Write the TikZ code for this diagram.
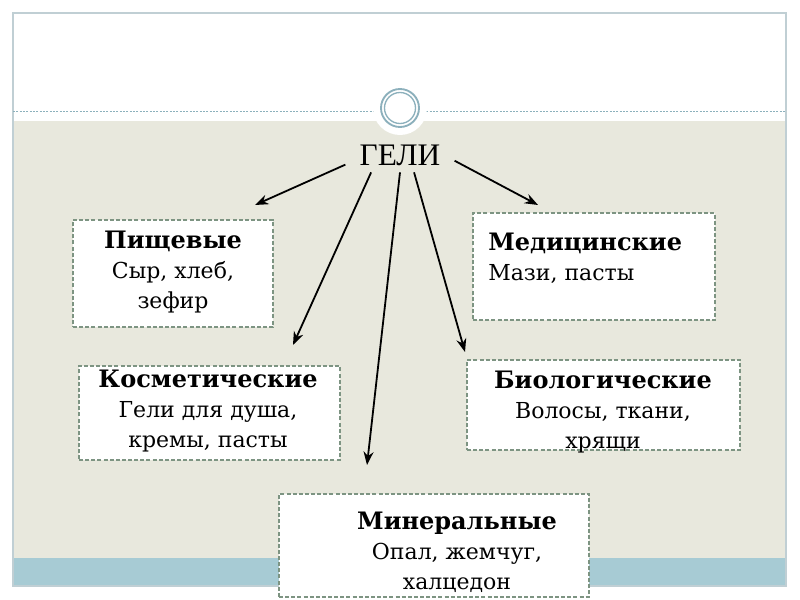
\documentclass[tikz,border=0pt]{standalone}
\usepackage{fontspec}
\setmainfont{DejaVu Serif}
\newfontfamily\gelfont{Liberation Serif}
\usepackage{tikz}
\usepackage{xcolor}
\usetikzlibrary{arrows.meta}

\definecolor{slidebg}{RGB}{232,232,221}
\definecolor{stripblue}{RGB}{167,203,212}
\definecolor{framegray}{RGB}{192,207,212}
\definecolor{ringblue}{RGB}{140,176,188}
\definecolor{dashgreen}{RGB}{125,148,130}
\newcommand{\boxhead}[1]{{\fontsize{18}{22.5}\selectfont\textbf{#1}}}

\begin{document}
\begin{tikzpicture}[x=0.75pt,y=-0.75pt,
  box/.style={draw=dashgreen,fill=white,line width=1pt,dash pattern=on 3pt off 1.6pt,inner sep=0pt},
  txt/.style={font=\fontsize{16.5}{22.5}\selectfont,align=center,inner sep=0pt},
  arr/.style={-{Stealth[length=10pt,width=7.5pt]},line width=1.35pt}]
  \useasboundingbox (0,0) rectangle (800,600);
  % slide
  \fill[white] (0,0) rectangle (800,600);
  \fill[slidebg] (13,121) rectangle (786,558);
  \fill[stripblue] (13,558) rectangle (786,586);
  \draw[framegray,line width=0.9pt] (13,13) rectangle (786,586);
  \draw[ringblue,line width=0.6pt,dash pattern=on 1.5pt off 1pt] (13,111) -- (786,111);
  % ring
  \fill[white] (400,108) circle[radius=27];
  \draw[ringblue,line width=1.4pt] (400,108) circle[radius=19];
  \draw[ringblue,line width=1pt] (400,108) circle[radius=15.5];
  % title
  \node[font=\gelfont\fontsize{23.5}{28}\selectfont,inner xsep=10.5pt,inner ysep=5pt] (gels) at (400,155) {ГЕЛИ};
  % boxes
  \node[box,minimum width=150pt,minimum height=80.25pt] (food) at (173,273.5) {};
  \node[box,minimum width=181.5pt,minimum height=80.25pt] (med) at (594,266.5) {};
  \node[box,minimum width=195.75pt,minimum height=70.5pt] (cosm) at (209.5,413) {};
  \node[box,minimum width=204.75pt,minimum height=67.5pt] (bio) at (603.5,405) {};
  \node[box,minimum width=232.5pt,minimum height=77.25pt] (mineral) at (434,545.5) {};
  % texts
  \node[txt] (foodtxt) at (173,272) {\boxhead{Пищевые}\\Сыр, хлеб,\\зефир};
  \node[txt,align=left,anchor=west] (medtxt) at (488,258) {\boxhead{Медицинские}\\Мази, пасты};
  \node[txt] (cosmtxt) at (208,411) {\boxhead{Косметические}\\Гели для душа,\\кремы, пасты};
  \node[txt] (biotxt) at (603,412) {\boxhead{Биологические}\\Волосы, ткани,\\хрящи};
  \node[txt] (mineraltxt) at (457,552) {\boxhead{Минеральные}\\Опал, жемчуг,\\халцедон};
  % arrows
  \coordinate (foodend) at (255,205);
  \coordinate (cosmend) at (293,345);
  \coordinate (minend) at (367,465);
  \coordinate (bioend) at (465,352);
  \coordinate (medend) at (538,205);
  \draw[arr] (gels.190) -- (foodend);
  \draw[arr] (gels.211) -- (cosmend);
  \draw[arr] (gels.270) -- (minend);
  \draw[arr] (gels.309) -- (bioend);
  \draw[arr] (gels.354) -- (medend);
\end{tikzpicture}
\end{document}
